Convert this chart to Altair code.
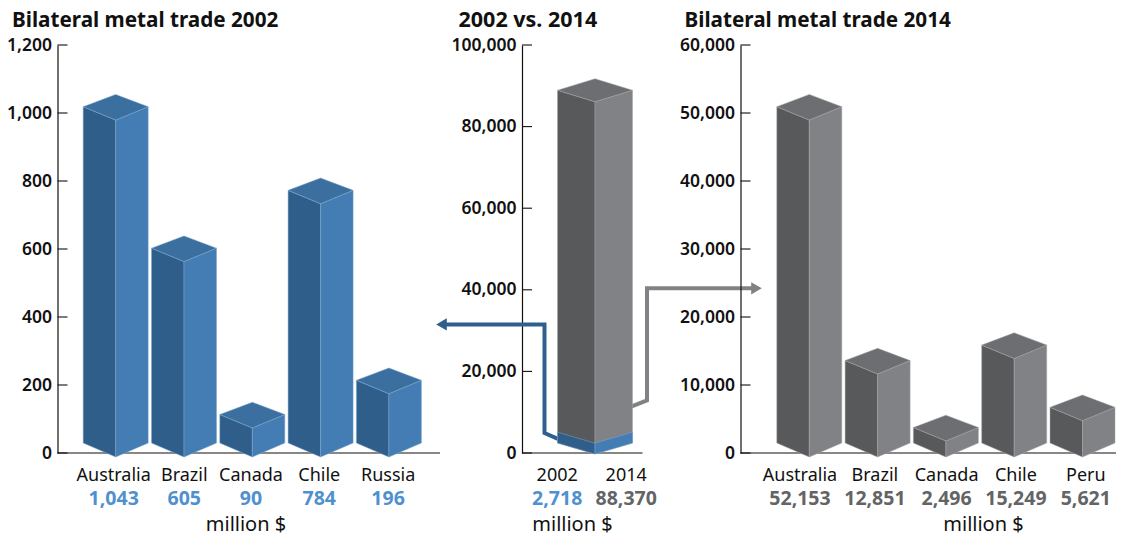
import altair as alt
import pandas as pd

FONT = "Noto Sans"

CATS_2002 = ["Australia", "Brazil", "Canada", "Chile", "Russia"]
VALS_2002 = [1043, 605, 90, 784, 196]
CATS_2014 = ["Australia", "Brazil", "Canada", "Chile", "Peru"]
VALS_2014 = [52153, 12851, 2496, 15249, 5621]
CATS_CMP = ["2002", "2014"]
VALS_CMP = [2718, 88370]
TICKS_2002 = [0, 200, 400, 600, 800, 1000, 1200]
TICKS_CMP = [0, 20000, 40000, 60000, 80000, 100000]
TICKS_2014 = [0, 10000, 20000, 30000, 40000, 50000, 60000]

BLUE = dict(left="#2f5e8b", right="#437db4", top="#3a6f9f", stroke="#7fa6cc", text="#4f91cf")
GRAY = dict(left="#58595b", right="#808285", top="#6d6e71", stroke="#a3a4a6", text="#636466")
ARROW_BLUE = "#2f5f8d"
ARROW_GRAY = "#808285"
INK = "#111111"

H = 408          # plot height in px
TICK = 10
Y_CAT, Y_VAL, Y_UNIT = 431, 454, 480   # label rows below the plot top (px)


def y_axis(ticks):
    return alt.Axis(values=ticks, format=",d", title=None, grid=False, ticks=False, tickSize=0,
                    labelPadding=6, labelFont=FONT, labelFontSize=17.5, labelFontWeight=600,
                    labelColor=INK, domainColor=INK, domainWidth=1.2, labelFlush=False,
                    labelOverlap=False)


def axis_layers(ticks, ymax, axis_w):
    yscale = alt.Scale(domain=[0, ymax], nice=False)
    ax = y_axis(ticks)
    d = pd.DataFrame({"v": ticks})
    base = alt.Chart(d).mark_rule(color=INK, strokeWidth=1.1).encode(
        y=alt.Y("v:Q", scale=yscale, axis=ax), x=alt.value(0), x2=alt.value(TICK))
    zero = alt.Chart(pd.DataFrame({"v": [0]})).mark_rule(color=INK, strokeWidth=1.2).encode(
        y=alt.Y("v:Q", scale=yscale, axis=ax), x=alt.value(0), x2=alt.value(axis_w))
    return [base, zero], yscale, ax


def faces(centre, half, top_v, k, base_c, base_s, drop, apex):
    """Rows for the three faces of a block; px offsets are turned into data units by k."""
    L, C, R = centre - half, centre, centre + half
    top_s = top_v + drop * k
    top_a = top_v + apex * k
    b_c, b_s = -base_c * k, -base_s * k
    return {
        "left": [(L, top_s, b_s), (C, top_v, b_c)],
        "right": [(C, top_v, b_c), (R, top_s, b_s)],
        "top": [(L, top_s, top_s), (C, top_a, top_v), (R, top_s, top_s)],
    }


def block_layers(rows, pal, xscale, yscale, ax, which=("left", "right", "top")):
    out = []
    for face in which:
        d = pd.DataFrame([r for r in rows if r["face"] == face])
        out.append(alt.Chart(d).mark_area(color=pal[face], stroke=pal["stroke"], strokeWidth=0.5,
                                          opacity=1, orient="vertical").encode(
            x=alt.X("x:Q", scale=xscale, axis=None),
            y=alt.Y("y:Q", scale=yscale, axis=ax, stack=None),
            y2="y2:Q",
            detail="id:N"))
    return out


def make_rows(centres, half, tops, k, base_c, base_s, drop, apex):
    rows = []
    for i, (c, t) in enumerate(zip(centres, tops)):
        for face, pts in faces(c, half, t, k, base_c, base_s, drop, apex).items():
            for x, y, y2 in pts:
                rows.append(dict(id=i, face=face, x=x, y=y, y2=y2))
    return rows


def text_layer(xs, texts, y_px, xscale, size=18, weight=400, color=INK, align="center"):
    d = pd.DataFrame({"x": xs, "t": texts})
    return alt.Chart(d).mark_text(font=FONT, fontSize=size, fontWeight=weight, color=color,
                                  align=align, baseline="middle").encode(
        x=alt.X("x:Q", scale=xscale, axis=None), y=alt.value(y_px), text="t:N")


def title_layer(text, dx, size=20.7):
    d = pd.DataFrame({"t": [text]})
    return alt.Chart(d).mark_text(font=FONT, fontSize=size, fontWeight=700, color=INK, align="left",
                                  baseline="middle").encode(
        x=alt.value(dx), y=alt.value(-24), text="t:N")


def bar_panel(cats, vals, ticks, ymax, pal, width, title, title_dx, c0, label_nudge, unit_x):
    step, half_px = 68.3, 32.5
    to_u = lambda px: (px - c0) / step
    xscale = alt.Scale(domain=[to_u(0), to_u(width)], nice=False, zero=False)
    k = ymax / H
    axes, yscale, ax = axis_layers(ticks, ymax, width)
    # the drawn front edge sits at 95 % of the value, the block foot 4 px under the axis
    tops = [v * 0.95 - 4 * k for v in vals]
    rows = make_rows(list(range(len(cats))), half_px / step, tops, k, 4, -10, 13.4, 25.7)
    xs = [i + n / step for i, n in enumerate(label_nudge)]
    return alt.layer(
        *axes,
        *block_layers(rows, pal, xscale, yscale, ax),
        text_layer(xs, cats, Y_CAT, xscale),
        text_layer(xs, [f"{v:,}" for v in vals], Y_VAL, xscale, size=19.5, weight=700, color=pal["text"]),
        text_layer([to_u(unit_x)], ["million $"], Y_UNIT, xscale, size=20),
        title_layer(title, title_dx),
    ).properties(width=width, height=H)


# --- left and right panels
left = bar_panel(CATS_2002, VALS_2002, TICKS_2002, 1200, BLUE, 382.5,
                 "Bilateral metal trade 2002", -45.5, 58.2, [-2, 0.3, -1.3, -1.3, -0.8], 188.5)
right = bar_panel(CATS_2014, VALS_2014, TICKS_2014, 60000, GRAY, 384,
                  "Bilateral metal trade 2014", -56, 68.8, [-9.3, -2.7, 0.7, 1.7, 3.3], 243)

# --- middle panel: one block with the 2002 share at its foot
YMAX_C = 100000
k_c = YMAX_C / H
STEP_C = 69.0
X0_C = 521.5
W_C = 136.5
u_c = lambda page_x: (page_x - 556.7) / STEP_C
xs_c = alt.Scale(domain=[u_c(X0_C), u_c(X0_C + W_C)], nice=False, zero=False)
ax_c, ys_c, axis_c = axis_layers(TICKS_CMP, YMAX_C, 120.5)
centre_c = u_c(594.5)
half_c = 37.5 / STEP_C
top_big = VALS_CMP[1] * 0.977 - 1 * k_c
top_small = VALS_CMP[0] * 0.977 - 1 * k_c
rows_big = make_rows([centre_c], half_c, [top_big], k_c, 1, -10, 11.5, 23)
rows_small = make_rows([centre_c], half_c, [top_small], k_c, 1, -10, 11, 22)


def elbow(points, color):
    d = pd.DataFrame([dict(i=i, x=u_c(p), y=v) for i, (p, v) in enumerate(points)])
    return alt.Chart(d).mark_line(color=color, strokeWidth=4, strokeJoin="miter").encode(
        x=alt.X("x:Q", scale=xs_c, axis=None),
        y=alt.Y("y:Q", scale=ys_c, axis=axis_c), order="i:Q")


def head(page_x, v, shape, color):
    d = pd.DataFrame({"x": [u_c(page_x)], "y": [v]})
    return alt.Chart(d).mark_point(shape=shape, filled=True, size=150, color=color, opacity=1).encode(
        x=alt.X("x:Q", scale=xs_c, axis=None), y=alt.Y("y:Q", scale=ys_c, axis=axis_c))


BLUE_ARROW = [(444, 31500), (544, 31500), (544, 4900), (558, 3400)]
GRAY_ARROW = [(630, 11300), (646.5, 12900), (646.5, 40370), (754, 40370)]

middle = alt.layer(
    *ax_c,
    elbow(BLUE_ARROW, ARROW_BLUE),
    head(441, 31500, "triangle-left", ARROW_BLUE),
    elbow(GRAY_ARROW, ARROW_GRAY),
    head(756, 40370, "triangle-right", ARROW_GRAY),
    *block_layers(rows_big, GRAY, xs_c, ys_c, axis_c),
    *block_layers(rows_small, BLUE, xs_c, ys_c, axis_c, which=("left", "right")),
    text_layer([0, 1], CATS_CMP, Y_CAT, xs_c),
    text_layer([0], [f"{VALS_CMP[0]:,}"], Y_VAL, xs_c, size=19.5, weight=700, color=BLUE["text"]),
    text_layer([1], [f"{VALS_CMP[1]:,}"], Y_VAL, xs_c, size=19.5, weight=700, color=GRAY["text"]),
    text_layer([u_c(572)], ["million $"], Y_UNIT, xs_c, size=20),
    title_layer("2002 vs. 2014", -63.5, size=21.5),
).properties(width=W_C, height=H)

chart = alt.hconcat(left, middle, right, spacing=81.5, bounds="flush").properties(
    autosize=alt.AutoSizeParams(type="none"),
    padding={"left": 49.5, "top": 37, "right": 1058.5, "bottom": 487},
    background="white",
).configure_view(stroke=None)

chart.save("out.html", embed_options={"renderer": "svg", "actions": False})
